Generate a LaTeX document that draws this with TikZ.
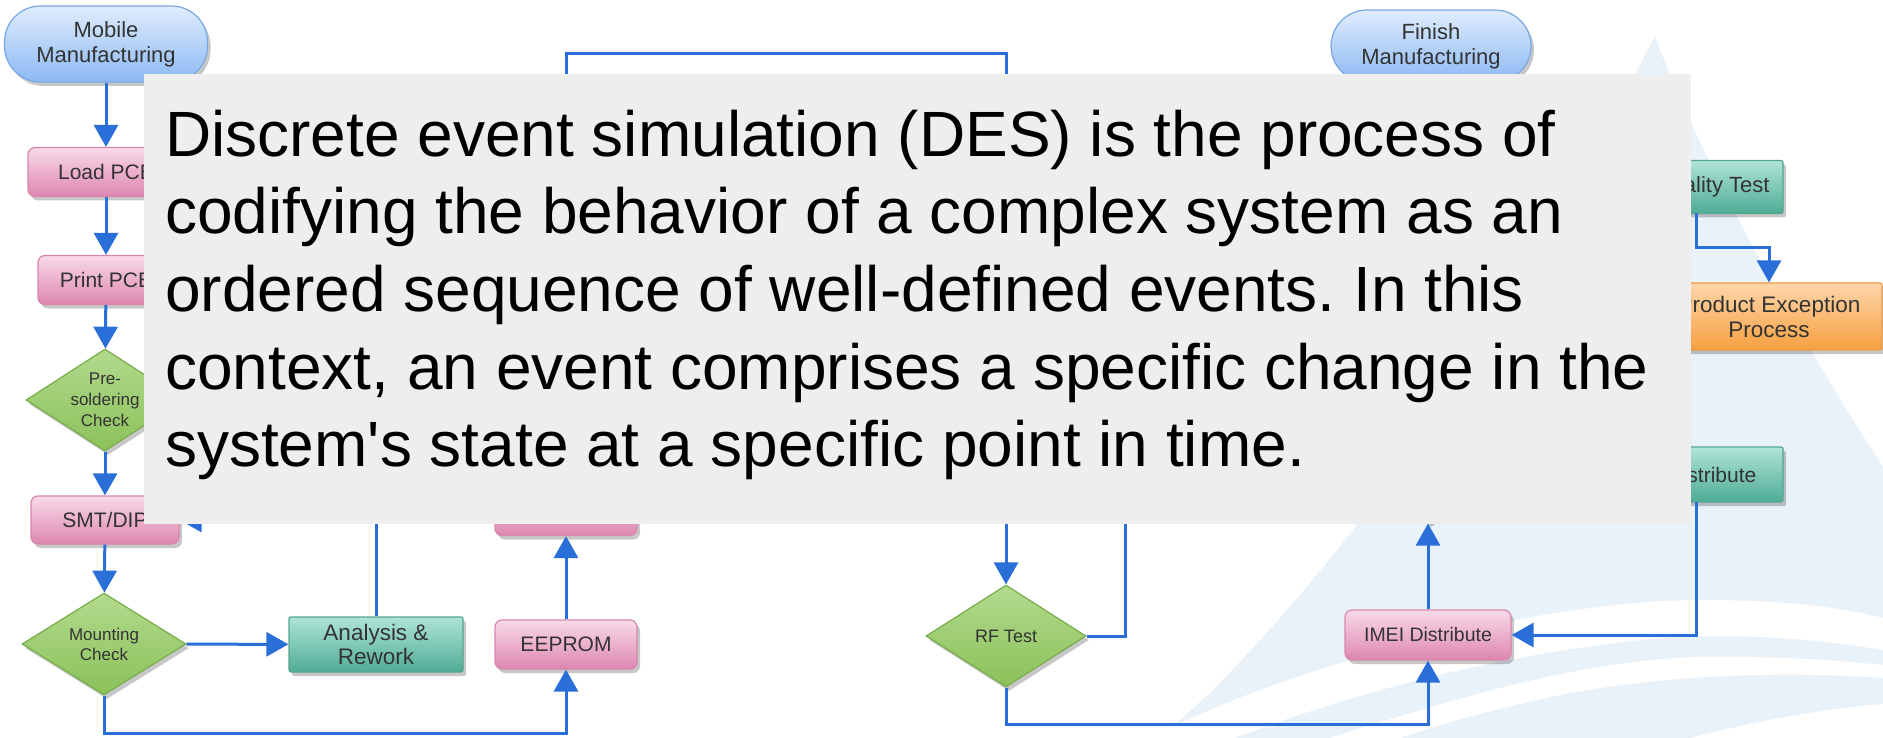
\documentclass[tikz,border=0pt]{standalone}
\usepackage{fontspec}
\setmainfont{Liberation Sans}
\usetikzlibrary{shapes.geometric,arrows.meta,shadows}

\definecolor{flowblue}{HTML}{2A6FD8}
\definecolor{labeltext}{HTML}{333333}
\definecolor{termtop}{HTML}{E0ECFD}
\definecolor{termbot}{HTML}{8CB9F3}
\definecolor{termline}{HTML}{78A7E6}
\definecolor{pinktop}{HTML}{F8DAE8}
\definecolor{pinkbot}{HTML}{DE86B0}
\definecolor{pinkline}{HTML}{D886AE}
\definecolor{greentop}{HTML}{B2DA8D}
\definecolor{greenbot}{HTML}{8BC15A}
\definecolor{greenline}{HTML}{79AD4B}
\definecolor{tealtop}{HTML}{B0E4D8}
\definecolor{tealbot}{HTML}{4EAC95}
\definecolor{tealline}{HTML}{56A690}
\definecolor{orangetop}{HTML}{FDD6AA}
\definecolor{orangebot}{HTML}{F6A040}
\definecolor{orangeline}{HTML}{EE9A45}
\definecolor{notegray}{HTML}{EEEEEE}
\definecolor{sailblue}{HTML}{EAF2F9}

\frenchspacing
\newcommand{\lblsize}[1]{\fontsize{#1}{1.15\dimexpr#1pt\relax}\selectfont}

\begin{document}
\begin{tikzpicture}[x=1pt,y=-1pt,
  lbl/.style={font=\fontsize{21}{24}\selectfont, text=labeltext, align=center, inner sep=0pt},
  smalllbl/.style={font=\fontsize{17}{20}\selectfont, text=labeltext, align=center, inner sep=0pt},
  shade/.style={drop shadow={shadow xshift=3pt, shadow yshift=-4pt, opacity=0.22, fill=black}},
  terminal/.style={lbl, shade, rectangle, rounded corners=36pt, line width=1.2pt,
    draw=termline, top color=termtop, bottom color=termbot},
  pinkbox/.style={lbl, shade, rectangle, rounded corners=7pt, line width=1.2pt,
    draw=pinkline, top color=pinktop, bottom color=pinkbot},
  tealbox/.style={lbl, shade, rectangle, rounded corners=2pt, line width=1.2pt,
    draw=tealline, top color=tealtop, bottom color=tealbot},
  orangebox/.style={lbl, shade, rectangle, rounded corners=2pt, line width=1.2pt,
    draw=orangeline, top color=orangetop, bottom color=orangebot},
  check/.style={smalllbl, shade, diamond, aspect=1.6, line width=1.2pt,
    draw=greenline, top color=greentop, bottom color=greenbot},
  flow/.style={draw=flowblue, line width=3pt, -{Triangle[length=22pt,width=24pt]}},
  flowline/.style={draw=flowblue, line width=3pt},
  notetext/.style={anchor=base west, inner sep=0pt, text=black,
    font=\fontsize{64}{77}\selectfont}
]
\useasboundingbox (0,0) rectangle (1883,738);
\fill[white] (0,0) rectangle (1883,738);

% watermark sail and swooshes
\fill[sailblue] (1655,36) .. controls (1560,220) and (1430,470) .. (1210,693)
  -- (1160,738) -- (1883,738) -- (1883,467)
  .. controls (1800,340) and (1700,160) .. cycle;
\fill[white] (1150,738) .. controls (1300,660) and (1550,600) .. (1700,600)
  .. controls (1800,600) and (1850,610) .. (1883,618)
  -- (1883,650) .. controls (1800,636) and (1700,630) .. (1600,645)
  .. controls (1450,665) and (1320,705) .. (1235,738) -- cycle;
\fill[white] (1330,738) .. controls (1450,700) and (1580,660) .. (1700,657)
  .. controls (1800,656) and (1850,662) .. (1883,665)
  -- (1883,678) .. controls (1800,672) and (1680,672) .. (1560,695)
  .. controls (1480,712) and (1430,728) .. (1400,738) -- cycle;
\fill[white] (1690,738) .. controls (1760,720) and (1830,708) .. (1883,704)
  -- (1883,738) -- cycle;

% left column
\node[terminal, font=\fontsize{22}{25}\selectfont, minimum width=203pt, minimum height=76pt] (mobile) at (106,44) {Mobile\\Manufacturing};
\node[pinkbox, minimum width=156pt, minimum height=49pt] (load) at (106,172) {Load PCB};
\node[pinkbox, minimum width=136pt, minimum height=49pt] (print) at (106,280) {Print PCB};
\node[check, minimum width=158pt, minimum height=102pt, font=\fontsize{17}{21}\selectfont] (presold) at (105,400) {Pre-\\soldering\\Check};
\node[pinkbox, minimum width=148pt, minimum height=48pt] (smt) at (105,520) {SMT/DIP};
\node[check, minimum width=164pt, minimum height=102pt] (mount) at (104,644) {Mounting\\Check};
\node[tealbox, font=\fontsize{22.5}{24}\selectfont, minimum width=174pt, minimum height=55pt] (rework) at (376,644.5) {Analysis \&\\Rework};
\node[pinkbox, minimum width=142pt, minimum height=49pt] (eeprom) at (566,644.5) {EEPROM};
\node[pinkbox, minimum width=142pt, minimum height=49pt] (upper) at (566,511) {};

% right part
\node[check, minimum width=160pt, minimum height=102pt, font=\fontsize{18}{20}\selectfont] (rf) at (1006,636) {RF Test};
\node[pinkbox, font=\fontsize{19.5}{22}\selectfont, minimum width=166pt, minimum height=50pt] (imei) at (1428,635) {IMEI Distribute};
\node[check, minimum width=160pt, minimum height=100pt] (upcheck) at (1428,473) {};
\node[terminal, font=\fontsize{22}{25}\selectfont, minimum width=200pt, minimum height=72pt] (finish) at (1431,46) {Finish\\Manufacturing};
\node[tealbox, font=\fontsize{22}{24}\selectfont, minimum width=142pt, minimum height=53pt] (quality) at (1712,187) {Quality Test};
\node[orangebox, font=\fontsize{22.5}{25}\selectfont, minimum width=226pt, minimum height=67pt] (except) at (1769,316.5) {Product Exception\\Process};
\node[tealbox, minimum width=142pt, minimum height=55pt] (dist) at (1712,474.5) {Distribute};

% connector corners
\coordinate (lowL) at (566,733);
\coordinate (topL) at (566,54);
\coordinate (topR) at (1006,54);
\coordinate (rfUp) at (1125,500);
\coordinate (lowR) at (1428,724);
\coordinate (distOut) at (1696,502);
\coordinate (qualOut) at (1696,213.5);
\coordinate (qualBend) at (1769,248);

% connectors
\draw[flow] (mobile) -- (load);
\draw[flow] (load) -- (print);
\draw[flow] (print) -- (presold);
\draw[flow] (presold) -- (smt);
\draw[flow] (smt) -- (mount);
\draw[flow] (mount) -- (rework);
\draw[flow] (rework.north) |- (smt.east);
\draw[flow] (mount.south) |- (lowL) -- (eeprom.south);
\draw[flow] (eeprom) -- (upper);
\draw[flow] (upper.north) -- (topL) -- (topR) -- (rf.north);
\draw[flowline] (rf.east) -| (rfUp);
\draw[flow] (rf.south) |- (lowR) -- (imei.south);
\draw[flow] (imei) -- (upcheck);
\draw[flow] (distOut) |- (imei.east);
\draw[flow] (qualOut) |- (qualBend) -- (except.north);

% description panel
\node[fill=notegray, inner sep=0pt, minimum width=1547pt, minimum height=450pt, anchor=north west] (panel) at (144,74) {};
\node[notetext] (line1) at (165,157) {Discrete event simulation (DES) is the process of};
\node[notetext] (line2) at (165,234) {codifying the behavior of a complex system as an};
\node[notetext] (line3) at (165,311.5) {ordered sequence of well-defined events. In this};
\node[notetext] (line4) at (165,389) {context, an event comprises a specific change in the};
\node[notetext] (line5) at (165,466) {system\textquotesingle s state at a specific point in time.};
\end{tikzpicture}
\end{document}
